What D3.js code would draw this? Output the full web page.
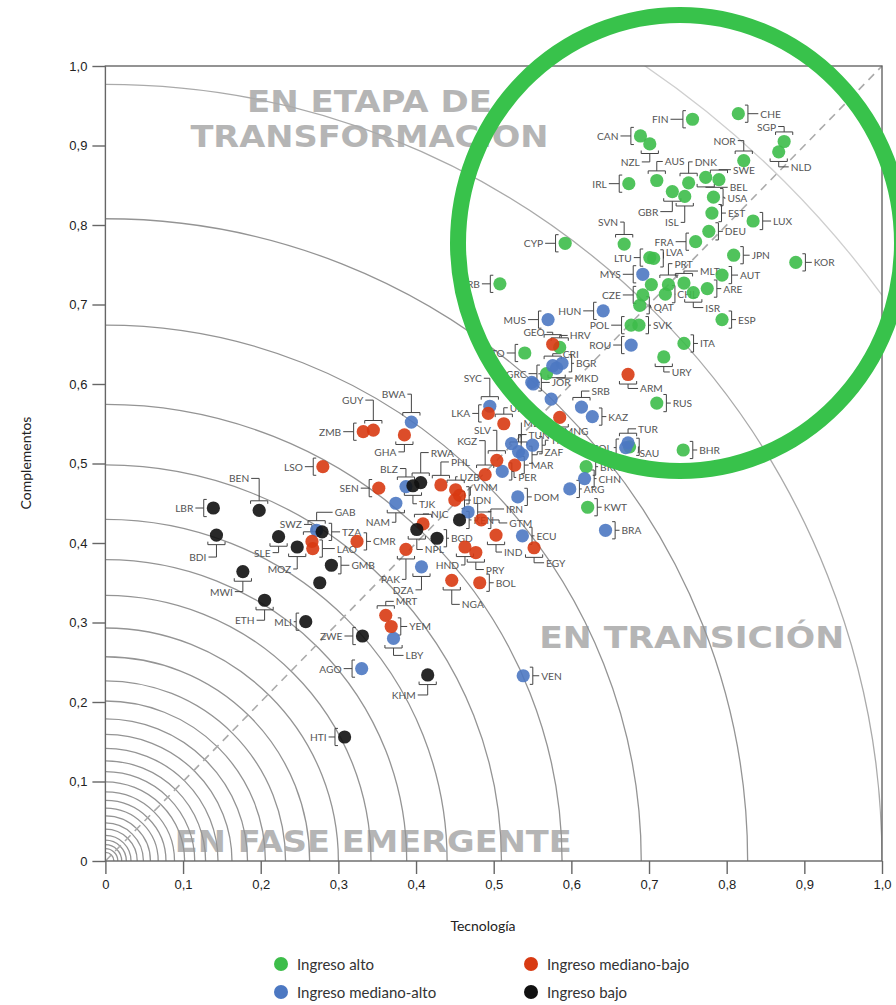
<!DOCTYPE html>
<html>
<head>
<meta charset="utf-8">
<script src="https://cdn.jsdelivr.net/npm/d3@7"></script>
<style>
  body { margin: 0; background: #fff; }
  svg { display: block; font-family: Lato, "DejaVu Sans", sans-serif; }
  .tick text { font-size: 13px; fill: #222; }
  .tick line, .domain { stroke: #666; stroke-width: 1.4; }
  .lbl { font-size: 10.2px; fill: #555; }
  .leader { fill: none; stroke: #444; stroke-width: 1; }
  .zone { font-weight: bold; font-size: 31px; fill: #b5b5b5; font-family: "DejaVu Sans", sans-serif; }
</style>
</head>
<body>
<div id="chart"></div>
<script>
/*global d3*/
(function () {
    "use strict";

    // [code, tecnologia, complementos]
    var ingresoAlto = [
        ["FIN", 0.756, 0.933], ["CHE", 0.815, 0.940], ["CAN", 0.689, 0.912], ["NZL", 0.701, 0.902],
        ["SGP", 0.874, 0.905], ["NLD", 0.867, 0.892], ["NOR", 0.822, 0.881], ["AUS", 0.710, 0.856],
        ["DNK", 0.751, 0.853], ["IRL", 0.674, 0.852], ["SWE", 0.790, 0.857], ["BEL", 0.773, 0.860],
        ["GBR", 0.730, 0.842], ["ISL", 0.746, 0.836], ["USA", 0.783, 0.835], ["EST", 0.781, 0.815],
        ["LUX", 0.834, 0.805], ["DEU", 0.777, 0.792], ["SVN", 0.668, 0.776], ["FRA", 0.760, 0.779],
        ["CYP", 0.592, 0.777], ["LTU", 0.701, 0.759], ["LVA", 0.706, 0.758], ["JPN", 0.809, 0.762],
        ["KOR", 0.889, 0.753], ["AUT", 0.794, 0.737], ["", 0.703, 0.725], ["PRT", 0.725, 0.725],
        ["MLT", 0.745, 0.727], ["ARE", 0.775, 0.720], ["ISR", 0.757, 0.715], ["CHL", 0.721, 0.713],
        ["CZE", 0.692, 0.712], ["QAT", 0.688, 0.699], ["POL", 0.677, 0.674], ["SVK", 0.687, 0.674],
        ["ESP", 0.794, 0.681], ["ITA", 0.745, 0.651], ["URY", 0.719, 0.634], ["RUS", 0.710, 0.576],
        ["BHR", 0.744, 0.517], ["BRB", 0.508, 0.726], ["TTO", 0.540, 0.639], ["HRV", 0.585, 0.646],
        ["GRC", 0.568, 0.613], ["BRN", 0.619, 0.496], ["KWT", 0.621, 0.445], ["SAU", 0.675, 0.521]
    ];
    var ingresoMedianoAlto = [
        ["MYS", 0.692, 0.738], ["HUN", 0.641, 0.692], ["MUS", 0.570, 0.681], ["ROU", 0.677, 0.649],
        ["CRI", 0.576, 0.623], ["BGR", 0.588, 0.626], ["MKD", 0.581, 0.620], ["JOR", 0.549, 0.602],
        ["", 0.551, 0.600], ["LBN", 0.574, 0.581], ["SYC", 0.495, 0.572], ["SRB", 0.613, 0.571],
        ["KAZ", 0.627, 0.559], ["MEX", 0.523, 0.525], ["THA", 0.550, 0.523], ["TUN", 0.532, 0.515],
        ["ZAF", 0.537, 0.511], ["PER", 0.511, 0.490], ["DOM", 0.531, 0.458], ["CHN", 0.617, 0.481],
        ["ARG", 0.598, 0.468], ["BRA", 0.644, 0.416], ["TUR", 0.673, 0.526], ["COL", 0.670, 0.520],
        ["IRN", 0.467, 0.439], ["ECU", 0.537, 0.409], ["BWA", 0.394, 0.552], ["BLZ", 0.387, 0.471],
        ["NAM", 0.374, 0.450], ["GAB", 0.272, 0.416], ["DZA", 0.407, 0.370], ["LBY", 0.371, 0.280],
        ["AGO", 0.330, 0.242], ["VEN", 0.538, 0.233]
    ];
    var ingresoMedianoBajo = [
        ["GEO", 0.576, 0.650], ["ARM", 0.673, 0.612], ["LKA", 0.493, 0.563], ["UKR", 0.513, 0.550],
        ["MNG", 0.585, 0.558], ["SLV", 0.504, 0.504], ["KGZ", 0.489, 0.486], ["MAR", 0.527, 0.498],
        ["UZB", 0.451, 0.467], ["VNM", 0.456, 0.460], ["IDN", 0.450, 0.454], ["PHL", 0.432, 0.473],
        ["GTM", 0.484, 0.429], ["NIC", 0.409, 0.424], ["IND", 0.503, 0.410], ["EGY", 0.552, 0.394],
        ["HND", 0.463, 0.395], ["PRY", 0.477, 0.388], ["BOL", 0.482, 0.350], ["NGA", 0.446, 0.353],
        ["PAK", 0.387, 0.392], ["MRT", 0.361, 0.309], ["YEM", 0.368, 0.295], ["CMR", 0.324, 0.402],
        ["SWZ", 0.266, 0.402], ["LAO", 0.267, 0.393], ["SEN", 0.352, 0.469], ["GHA", 0.385, 0.536],
        ["ZMB", 0.332, 0.540], ["GUY", 0.345, 0.542], ["LSO", 0.280, 0.496]
    ];
    var ingresoBajo = [
        ["RWA", 0.406, 0.476], ["TJK", 0.396, 0.472], ["KEN", 0.456, 0.429], ["NPL", 0.401, 0.417],
        ["BGD", 0.427, 0.406], ["TZA", 0.279, 0.414], ["LBR", 0.139, 0.444], ["BEN", 0.198, 0.441],
        ["BDI", 0.143, 0.410], ["SLE", 0.223, 0.408], ["MOZ", 0.247, 0.395], ["GMB", 0.291, 0.372],
        ["", 0.276, 0.350], ["MWI", 0.177, 0.364], ["ETH", 0.205, 0.328], ["MLI", 0.258, 0.301],
        ["ZWE", 0.331, 0.283], ["KHM", 0.415, 0.234], ["HTI", 0.308, 0.156]
    ];

    var grupos = ["Ingreso alto", "Ingreso mediano-alto", "Ingreso mediano-bajo", "Ingreso bajo"];
    var colores = ["#3dbd4a", "#4c78c2", "#d83a12", "#111111"];
    var ticks = [0, 0.1, 0.2, 0.3, 0.4, 0.5, 0.6, 0.7, 0.8, 0.9, 1.0];
    var radios = [1.237, 1.0, 0.827, 0.690, 0.588, 0.510, 0.440, 0.388, 0.342, 0.300, 0.263,
        0.232, 0.206, 0.183, 0.163, 0.145, 0.129, 0.115, 0.102, 0.089, 0.078, 0.068, 0.058,
        0.049, 0.041, 0.033, 0.027, 0.021, 0.016, 0.011];
    var zonas = [
        {t: "EN ETAPA DE", x: 0.34, y: 0.942, w: 245},
        {t: "TRANSFORMACION", x: 0.34, y: 0.898, w: 358},
        {t: "EN TRANSICIÓN", x: 0.755, y: 0.268, w: 305},
        {t: "EN FASE EMERGENTE", x: 0.345, y: 0.011, w: 397}
    ];

    // label placement: side of the bracket, offset of the text from the dot (px)
    var etiquetas = {
        FIN: ["l", -24, 0], CHE: ["r", 22, 0], CAN: ["l", -22, 0], NZL: ["b", -10, 18], SGP: ["t", -8, -15],
        NLD: ["b", 12, 15], NOR: ["t", -8, -20], AUS: ["t", 8, -19], DNK: ["t", 6, -21], IRL: ["l", -22, 0],
        SWE: ["t", 14, -10], BEL: ["b", 24, 10], GBR: ["b", -14, 20], ISL: ["b", -6, 26], USA: ["r", 14, 1],
        EST: ["r", 16, 0], LUX: ["r", 20, 0], DEU: ["r", 16, 0], SVN: ["t", -6, -22], FRA: ["l", -22, 0],
        CYP: ["l", -22, 0], LTU: ["l", -18, 0], LVA: ["r", 12, -6], JPN: ["r", 18, 0], KOR: ["r", 18, 0],
        MYS: ["l", -22, 0], AUT: ["r", 18, 0], PRT: ["t", 6, -21], MLT: ["t", 16, -12], ARE: ["r", 16, 0],
        ISR: ["b", 12, 15], CHL: ["r", 12, 0], CZE: ["l", -22, 0], QAT: ["r", 14, 2], POL: ["l", -22, 0],
        SVK: ["r", 14, 0], ESP: ["r", 16, 0], ITA: ["r", 16, 0], URY: ["b", 8, 15], RUS: ["r", 16, 0],
        BHR: ["r", 16, 0], BRB: ["l", -20, 0], TTO: ["l", -20, 0], HRV: ["t", 10, -12], GRC: ["l", -20, 0],
        BRN: ["r", 14, 0], KWT: ["r", 16, 0], SAU: ["r", 10, 6],
        HUN: ["l", -22, 0], MUS: ["l", -22, 0], ROU: ["l", -20, 0], CRI: ["t", 10, -12], BGR: ["r", 14, 0],
        MKD: ["b", 18, 10], JOR: ["r", 20, 0], SYC: ["t", -8, -28], SRB: ["t", 10, -16],
        KAZ: ["r", 16, 0], MEX: ["r", 12, -21], THA: ["r", 18, -5], TUN: ["t", 10, -17], ZAF: ["r", 22, -3],
        PER: ["r", 16, 6], DOM: ["r", 16, 0], CHN: ["r", 14, 0], ARG: ["r", 14, 0], BRA: ["r", 16, 0],
        TUR: ["t", 10, -14], COL: ["l", -14, 0], IRN: ["r", 38, -3], ECU: ["r", 14, 0], BWA: ["t", -6, -28],
        BLZ: ["t", -8, -18], NAM: ["b", -6, 19], GAB: ["t", 18, -18], DZA: ["b", -8, 23], LBY: ["b", 12, 17],
        AGO: ["l", -20, 0], VEN: ["r", 18, 0],
        GEO: ["t", -8, -12], ARM: ["b", 12, 14], LKA: ["l", -18, 0], UKR: ["t", 6, -16], MNG: ["b", 4, 14],
        SLV: ["t", -6, -30], KGZ: ["t", -8, -34], MAR: ["r", 16, 0], UZB: ["t", 4, -13], VNM: ["r", 14, -8],
        IDN: ["r", 18, 0], PHL: ["t", 10, -23], GTM: ["r", 28, 3], NIC: ["t", 8, -10], IND: ["b", 8, 17],
        EGY: ["b", 12, 15], HND: ["b", -6, 18], PRY: ["b", 10, 17], BOL: ["r", 16, 0], NGA: ["b", 10, 24],
        PAK: ["b", -6, 30], MRT: ["t", 10, -14], YEM: ["r", 18, 0], CMR: ["r", 16, 0], SWZ: ["t", -10, -17],
        LAO: ["r", 24, 0], SEN: ["l", -20, 0], GHA: ["b", -8, 17], ZMB: ["l", -22, 0], GUY: ["t", -10, -30],
        LSO: ["l", -20, 0],
        RWA: ["t", 10, -30], TJK: ["b", 6, 18], KEN: ["r", 14, 0], NPL: ["b", 8, 20], BGD: ["r", 14, 0],
        TZA: ["r", 20, 0], LBR: ["l", -20, 0], BEN: ["t", -10, -32], BDI: ["b", -10, 22], SLE: ["b", -8, 16],
        MOZ: ["b", -6, 22], GMB: ["r", 20, 0], MWI: ["b", -10, 20], ETH: ["b", -10, 20], MLI: ["l", -14, 0],
        ZWE: ["l", -20, 0], KHM: ["b", -12, 20], HTI: ["l", -18, 0]
    };

    var W = 896, H = 1005,
        left = 105.4, right = 882, top = 66, bottom = 861,
        rDot = 6.6,
        x = d3.scaleLinear().domain([0, 1]).range([left, right]),
        y = d3.scaleLinear().domain([0, 1]).range([bottom, top]),
        fmt = function (d) { return d === 0 ? "0" : d3.format(".1f")(d).replace(".", ","); };

    var puntos = [];
    [ingresoAlto, ingresoMedianoAlto, ingresoMedianoBajo, ingresoBajo].forEach(function (serie, i) {
        serie.forEach(function (d) { puntos.push({code: d[0], tx: d[1], cy: d[2], g: i}); });
    });

    var svg = d3.select("#chart").append("svg").attr("width", W).attr("height", H);

    svg.append("defs").append("clipPath").attr("id", "plot")
        .append("rect").attr("x", left).attr("y", top).attr("width", right - left).attr("height", bottom - top);

    // zone titles
    svg.append("g").selectAll("text").data(zonas).enter().append("text")
        .attr("class", "zone")
        .attr("x", function (d) { return x(d.x); })
        .attr("y", function (d) { return y(d.y); })
        .attr("text-anchor", "middle")
        .attr("textLength", function (d) { return d.w; })
        .attr("lengthAdjust", "spacingAndGlyphs")
        .text(function (d) { return d.t; });

    // concentric arcs around the origin
    var unidad = x(1) - x(0);
    svg.append("g").attr("clip-path", "url(#plot)").selectAll("path").data(radios).enter().append("path")
        .attr("d", function (r) {
            var p = d3.path();
            p.arc(x(0), y(0), r * unidad, -Math.PI / 2, 0);
            return p.toString();
        })
        .attr("fill", "none")
        .attr("stroke", function (r) { return r > 1.1 ? "#cfcfcf" : (r > 0.9 ? "#aaa" : "#949494"); })
        .attr("stroke-width", 1.3);

    // diagonal
    svg.append("line")
        .attr("x1", x(0)).attr("y1", y(0)).attr("x2", x(1)).attr("y2", y(1))
        .attr("stroke", "#aaa").attr("stroke-width", 1.6).attr("stroke-dasharray", "8,6");

    // axes and frame
    svg.append("g").attr("transform", "translate(0," + bottom + ")")
        .call(d3.axisBottom(x).tickValues(ticks).tickFormat(fmt).tickSize(13).tickPadding(6))
        .call(function (g) { g.select(".domain").remove(); });
    svg.append("g").attr("transform", "translate(" + left + ",0)")
        .call(d3.axisLeft(y).tickValues(ticks).tickFormat(fmt).tickSize(13).tickPadding(5))
        .call(function (g) { g.select(".domain").remove(); });
    svg.append("rect")
        .attr("x", left).attr("y", top).attr("width", right - left).attr("height", bottom - top)
        .attr("fill", "none").attr("stroke", "#666").attr("stroke-width", 1.4);

    svg.append("text").attr("x", 483).attr("y", 931).attr("text-anchor", "middle")
        .style("font-size", "14px").style("fill", "#222").text("Tecnología");
    svg.append("text").attr("transform", "translate(31,463) rotate(-90)").attr("text-anchor", "middle")
        .style("font-size", "14px").style("fill", "#222").text("Complementos");

    // labels with brackets
    var conEtiqueta = puntos.filter(function (d) { return d.code && etiquetas[d.code]; });
    var gl = svg.append("g");
    conEtiqueta.forEach(function (d) {
        var e = etiquetas[d.code], side = e[0], dx = e[1], dy = e[2],
            px = x(d.tx), py = y(d.cy), h = rDot + 2, b, edge,
            path = d3.path();
        edge = px + dx + (dx < 0 ? 2 : -2);
        if (side === "l" || side === "r") {
            b = side === "l" ? px - rDot - 3 : px + rDot + 3;
            var s = side === "l" ? 3 : -3;
            path.moveTo(b + s, py - h); path.lineTo(b, py - h); path.lineTo(b, py + h); path.lineTo(b + s, py + h);
            path.moveTo(b, py);
            if (dy === 0) {
                path.lineTo(edge, py);
            } else {
                var mid = (b + edge) / 2;
                path.lineTo(mid, py); path.lineTo(mid, py + dy); path.lineTo(edge, py + dy);
            }
        } else {
            b = side === "t" ? py - rDot - 3 : py + rDot + 3;
            var t = side === "t" ? 3 : -3;
            path.moveTo(px - h, b + t); path.lineTo(px - h, b); path.lineTo(px + h, b); path.lineTo(px + h, b + t);
            path.moveTo(px, b); path.lineTo(px, py + dy); path.lineTo(edge, py + dy);
        }
        gl.append("path").attr("class", "leader").attr("d", path.toString());
        gl.append("text").attr("class", "lbl")
            .attr("x", px + dx).attr("y", py + dy + 4)
            .attr("text-anchor", dx < 0 ? "end" : "start")
            .text(d.code);
    });

    // dots
    svg.append("g").selectAll("circle").data(puntos).enter().append("circle")
        .attr("cx", function (d) { return x(d.tx); })
        .attr("cy", function (d) { return y(d.cy); })
        .attr("r", rDot)
        .attr("fill", function (d) { return colores[d.g]; })
        .attr("fill-opacity", 0.9);

    // legend
    var leg = svg.append("g").selectAll("g").data(grupos).enter().append("g")
        .attr("transform", function (d, i) {
            return "translate(" + (i === 0 || i === 1 ? 281 : 531) + "," + (i % 2 === 0 ? 964 : 992) + ")";
        });
    leg.append("circle").attr("r", 7).attr("fill", function (d, i) { return colores[i]; });
    leg.append("text").attr("x", 16).attr("y", 5.5).style("font-size", "15px").style("fill", "#333")
        .text(function (d) { return d; });

    // highlight ring
    svg.append("ellipse")
        .attr("cx", 680).attr("cy", 243).attr("rx", 222).attr("ry", 228)
        .attr("fill", "none").attr("stroke", "#38c24b").attr("stroke-width", 16);
}());
</script>
</body>
</html>
